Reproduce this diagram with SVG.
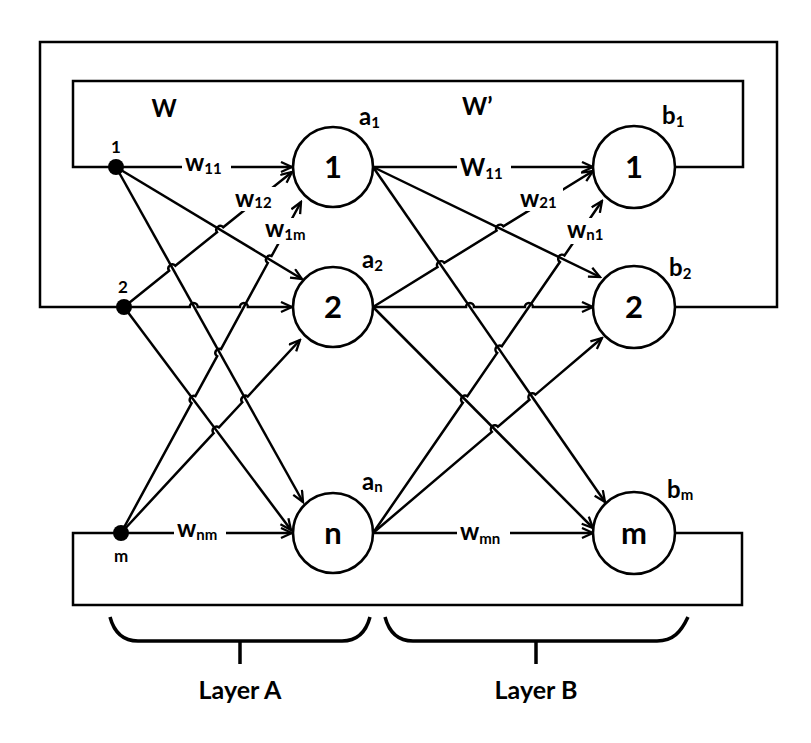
<svg xmlns="http://www.w3.org/2000/svg" width="811" height="743" viewBox="0 0 811 743">
<style>
.ln{stroke:#000;stroke-width:2.5;fill:none;stroke-linecap:butt;stroke-linejoin:miter}
.ar{marker-end:url(#ah)}
.nd{fill:#fff;stroke:#000;stroke-width:2.6}
.t{font-family:Lato,"Liberation Sans",sans-serif;font-weight:bold;fill:#000}
.num{font-size:31px;text-anchor:middle}
.lb{font-size:24px}
.sb{font-size:15px}
.sm{font-size:17px;text-anchor:middle}
.ly{font-size:25px;text-anchor:middle}
.br{stroke:#000;stroke-width:3.5;fill:none}
.bg{fill:#fff}
</style>
<defs>
<marker id="ah" markerUnits="userSpaceOnUse" markerWidth="14" markerHeight="14" refX="12" refY="6" orient="auto">
<path d="M1,1 L12,6 L1,11" fill="none" stroke="#000" stroke-width="2.3"/>
</marker>
</defs>
<g id="loops">
<path class="ln" d="M116,167 H73 V81 H743 V167 H675"/>
<path class="ln" d="M124,307 H40 V42 H777 V307 H675"/>
<path class="ln" d="M121,533 H73 V605 H742 V533 H675"/>
</g>
<g id="connectors">
<path class="ln ar" d="M116,167 L292,167"/>
<path class="ln ar" d="M116,167 L302,279"/>
<path class="ln ar" d="M116,167 L303,502"/>
<path class="ln ar" d="M124,307 L169.1,270.7 A4 4 0 0 1 175.3,265.7 L217,232.2 A4 4 0 0 1 223.2,227.2 L292,172"/>
<path class="ln ar" d="M124,307 L189.7,307 A4 4 0 0 1 197.7,307 L239.9,307 A4 4 0 0 1 247.9,307 L292,307"/>
<path class="ln ar" d="M124,307 L291,530"/>
<path class="ln ar" d="M121,533 L191.6,403.2 A4 4 0 0 1 195.4,396.2 L217.2,356.2 A4 4 0 0 1 221,349.2 L267.8,263 A4 4 0 0 1 271.6,256 L301,202"/>
<path class="ln ar" d="M121,533 L213.6,433.2 A4 4 0 0 1 219,427.4 L242.3,402.3 A4 4 0 0 1 247.7,396.5 L300,340"/>
<path class="ln ar" d="M121,533 L292,533"/>
<path class="ln ar" d="M373,167 L593,167"/>
<path class="ln ar" d="M373,167 L600,277"/>
<path class="ln ar" d="M373,167 L605,502"/>
<path class="ln ar" d="M373,307 L437.5,267.1 A4 4 0 0 1 444.3,262.9 L496.6,230.6 A4 4 0 0 1 503.4,226.4 L593,171"/>
<path class="ln ar" d="M373,307 L466,307 A4 4 0 0 1 474,307 L524.9,307 A4 4 0 0 1 532.9,307 L593,307"/>
<path class="ln ar" d="M373,307 L593,528"/>
<path class="ln ar" d="M373,533 L462.8,402.8 A4 4 0 0 1 467.4,396.2 L497.2,352.9 A4 4 0 0 1 501.8,346.3 L559.9,262 A4 4 0 0 1 564.5,255.4 L602,201"/>
<path class="ln ar" d="M373,533 L491.8,431.9 A4 4 0 0 1 497.9,426.7 L529.4,399.8 A4 4 0 0 1 535.5,394.6 L602,338"/>
<path class="ln ar" d="M373,533 L593,533"/>
</g>
<g id="edge-labels">
<rect class="bg" x="182" y="155" width="49" height="22"/>
<text class="t" x="185" y="171"><tspan class="lb">w</tspan><tspan class="sb" dy="3">11</tspan></text>
<rect class="bg" x="457" y="155" width="54" height="24"/>
<text class="t" x="460" y="176"><tspan class="lb">W</tspan><tspan class="sb" dy="3">11</tspan></text>
<rect class="bg" x="233" y="187" width="42" height="24"/>
<text class="t" x="235" y="207"><tspan class="lb">w</tspan><tspan class="sb" dy="1">12</tspan></text>
<rect class="bg" x="263" y="218" width="50" height="26"/>
<text class="t" x="265" y="237"><tspan class="lb">w</tspan><tspan class="sb" dy="3">1m</tspan></text>
<rect class="bg" x="518" y="187" width="45" height="24"/>
<text class="t" x="520" y="207"><tspan class="lb">w</tspan><tspan class="sb" dy="1">21</tspan></text>
<rect class="bg" x="565" y="218" width="45" height="26"/>
<text class="t" x="567" y="238"><tspan class="lb">w</tspan><tspan class="sb" dy="2">n1</tspan></text>
<rect class="bg" x="174" y="520" width="52" height="24"/>
<text class="t" x="177" y="537"><tspan class="lb">w</tspan><tspan class="sb" dy="3">nm</tspan></text>
<rect class="bg" x="457" y="520" width="53" height="26"/>
<text class="t" x="460" y="540"><tspan class="lb">w</tspan><tspan class="sb" dy="4">mn</tspan></text>
</g>
<g id="inputs">
<circle cx="116" cy="167" r="8"/>
<circle cx="124" cy="307" r="8"/>
<circle cx="121" cy="533" r="8"/>
<text class="t sm" x="116" y="153">1</text>
<text class="t sm" x="123" y="293">2</text>
<text class="t sm" x="121" y="562">m</text>
</g>
<text class="t" x="164" y="117" font-size="24" text-anchor="middle">W</text>
<text class="t" x="462" y="115" font-size="24">W’</text>
<g id="a1"><circle class="nd" cx="333" cy="167" r="40"/><text class="t num" x="333" y="178">1</text><text class="t" x="359" y="125"><tspan class="lb">a</tspan><tspan class="sb" dy="3">1</tspan></text></g>
<g id="a2"><circle class="nd" cx="333" cy="307" r="40"/><text class="t num" x="333" y="318">2</text><text class="t" x="362" y="268"><tspan class="lb">a</tspan><tspan class="sb" dy="3">2</tspan></text></g>
<g id="an"><circle class="nd" cx="333" cy="533" r="40"/><text class="t num" x="333" y="544">n</text><text class="t" x="362" y="490"><tspan class="lb">a</tspan><tspan class="sb" dy="2">n</tspan></text></g>
<g id="b1"><circle class="nd" cx="634" cy="167" r="41"/><text class="t num" x="634" y="178">1</text><text class="t" x="662" y="124"><tspan class="lb">b</tspan><tspan class="sb" dy="3">1</tspan></text></g>
<g id="b2"><circle class="nd" cx="634" cy="307" r="41"/><text class="t num" x="634" y="318">2</text><text class="t" x="669" y="276"><tspan class="lb">b</tspan><tspan class="sb" dy="3">2</tspan></text></g>
<g id="bm"><circle class="nd" cx="634" cy="533" r="41"/><text class="t num" x="634" y="544">m</text><text class="t" x="667" y="498"><tspan class="lb">b</tspan><tspan class="sb" dy="2">m</tspan></text></g>
<g id="layerA">
<path class="br" d="M110,617 C114,632 122,641 138,641 L342,641 C358,641 366,632 370,617"/>
<path class="br" d="M240,641 V664"/>
<text class="t ly" x="240" y="699">Layer A</text>
</g>
<g id="layerB">
<path class="br" d="M385,617 C389,632 397,641 413,641 L657,641 C673,641 681,632 688,617"/>
<path class="br" d="M536,641 V664"/>
<text class="t ly" x="536" y="699">Layer B</text>
</g>
</svg>
